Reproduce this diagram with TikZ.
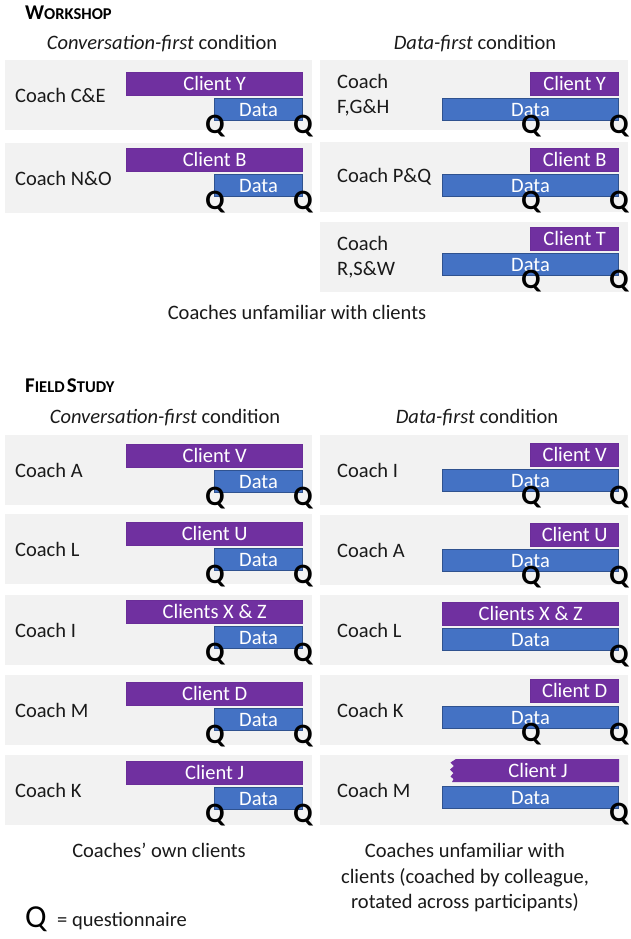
\documentclass[tikz,border=0pt]{standalone}
\usepackage{fontspec}
\setmainfont{Carlito}
\definecolor{panelgray}{HTML}{F2F2F2}
\definecolor{cpurple}{HTML}{7030A0}
\definecolor{cpurpleedge}{HTML}{6A2D98}
\definecolor{dblue}{HTML}{4472C4}
\definecolor{dblueedge}{HTML}{2F528F}
\definecolor{ink}{HTML}{1A1A1A}
\newcommand\convrow[5]{%
  \node[panel,minimum width=307] (#1p) at (5,#2) {};
  \node[coachlbl] (#1c) at (15,#2+35) {#4};
  \node[clientbar,minimum width=176] (#1cl) at (303,#3) {#5};
  \node[databar,minimum width=88] (#1d) at (303,#3+26) {Data};
  \node[qmark] (#1qa) at (215,#3+61) {Q};
  \node[qmark] (#1qb) at (303,#3+61) {Q};
}
\newcommand\dpanel[4]{%
  \node[panel,minimum width=308] (#1p) at (320,#2) {};
  \node[coachlbl] (#1c) at (337,#2+35) {#4};
}
\newcommand\dclient[4]{%
  \node[clientbar,minimum width=#3] (#1cl) at (619,#2) {#4};
}
\newcommand\ddata[2]{%
  \node[databar,minimum width=176] (#1d) at (619,#2) {Data};
}
\newcommand\qat[3]{\node[qmark] (#1) at (#2,#3) {Q};}
\begin{document}
\begin{tikzpicture}[x=1pt,y=-1pt,
  panel/.style={fill=panelgray,draw=none,anchor=north west,minimum height=70,inner sep=0},
  coachlbl/.style={anchor=west,align=left,inner sep=0,text=ink,font=\fontsize{20.5}{25}\selectfont},
  clientbar/.style={fill=cpurple,draw=cpurpleedge,line width=0.6pt,anchor=north east,minimum height=23,inner sep=0,text=white,font=\fontsize{20.5}{24}\selectfont},
  databar/.style={fill=dblue,draw=dblueedge,line width=1pt,anchor=north east,minimum height=22,inner sep=0,text=white,font=\fontsize{20.5}{24}\selectfont},
  qmark/.style={anchor=base,inner sep=0,text=black,font=\bfseries\fontsize{28}{28}\selectfont},
  txt/.style={anchor=base,inner sep=0,text=ink,font=\fontsize{20.5}{25}\selectfont},
  title/.style={anchor=base west,inner sep=0,text=black,font=\bfseries}
]
\useasboundingbox (0,0) rectangle (630,939);
\fill[white] (0,0) rectangle (630,939);

% ---------------- WORKSHOP ----------------
\node[title] (ws) at (25,20) {{\fontsize{21}{21}\selectfont W}{\fontsize{16.5}{16.5}\selectfont ORKSHOP}};
\node[txt] (wsconv) at (162,50) {\textit{Conversation-first} condition};
\node[txt] (wsdata) at (475,50) {\textit{Data-first} condition};

\convrow{wC}{60}{72}{Coach C\&E}{Client Y}
\convrow{wN}{143}{148}{Coach N\&O}{Client B}

\dpanel{wF}{60}{72}{Coach\\F,G\&H}
\dclient{wF}{72}{88}{Client Y}
\ddata{wF}{98}
\qat{wFqa}{531}{133}
\qat{wFqb}{619}{133}

\dpanel{wP}{142}{148}{Coach P\&Q}
\dclient{wP}{148}{88}{Client B}
\ddata{wP}{174}
\qat{wPqa}{531}{209}
\qat{wPqb}{619}{209}

\dpanel{wR}{222}{227}{Coach\\R,S\&W}
\dclient{wR}{227}{88}{Client T}
\ddata{wR}{253}
\qat{wRqa}{531}{288}
\qat{wRqb}{619}{288}

\node[txt] (wsnote) at (297,319) {Coaches unfamiliar with clients};

% ---------------- FIELD STUDY ----------------
\node[title] (fs) at (25,392) {{\fontsize{21}{21}\selectfont F}{\fontsize{16.5}{16.5}\selectfont IELD} {\fontsize{21}{21}\selectfont S}{\fontsize{16.5}{16.5}\selectfont TUDY}};
\node[txt] (fsconv) at (165,423) {\textit{Conversation-first} condition};
\node[txt] (fsdata) at (477,423) {\textit{Data-first} condition};

\convrow{fA}{435}{444}{Coach A}{Client V}
\convrow{fL}{514}{522}{Coach L}{Client U}
\convrow{fI}{595}{600}{Coach I}{Clients X \& Z}
\convrow{fM}{675}{682}{Coach M}{Client D}
\convrow{fK}{755}{761}{Coach K}{Client J}

\dpanel{gI}{435}{443}{Coach I}
\dclient{gI}{443}{88}{Client V}
\ddata{gI}{469}
\qat{gIqa}{531}{504}
\qat{gIqb}{619}{504}

\dpanel{gA}{515}{523}{Coach A}
\dclient{gA}{523}{88}{Client U}
\ddata{gA}{549}
\qat{gAqa}{531}{584}
\qat{gAqb}{619}{584}

\dpanel{gL}{595}{602}{Coach L}
\dclient{gL}{602}{176}{Clients X \& Z}
\ddata{gL}{628}
\qat{gLqb}{619}{663}

\dpanel{gK}{675}{679}{Coach K}
\dclient{gK}{679}{88}{Client D}
\ddata{gK}{706}
\qat{gKqa}{531}{741}
\qat{gKqb}{619}{741}

\dpanel{gM}{755}{759}{Coach M}
\fill[cpurple] (456,759) -- (619,759) -- (619,782) -- (452,782) -- (453.5,779) -- (450.5,776.5)
  -- (453.5,773) -- (450,769.5) -- (454,766) -- (450.5,762.5) -- cycle;
\node[inner sep=0,text=white,font=\fontsize{20.5}{24}\selectfont] (gMcl) at (538,770.5) {Client J};
\ddata{gM}{786}
\qat{gMqb}{619}{821}

% ---------------- notes and legend ----------------
\node[txt] (own) at (159,857) {Coaches’ own clients};
\node[txt] (unf1) at (465,857) {Coaches unfamiliar with};
\node[txt] (unf2) at (465,883) {clients (coached by colleague,};
\node[txt] (unf3) at (465,908) {rotated across participants)};

\node[anchor=base,inner sep=0,text=black,font=\fontsize{32}{32}\selectfont] (legq) at (36,927) {Q};
\node[anchor=base west,inner sep=0,text=ink,font=\fontsize{20.5}{25}\selectfont] (legt) at (57,926) {= questionnaire};
\end{tikzpicture}
\end{document}
